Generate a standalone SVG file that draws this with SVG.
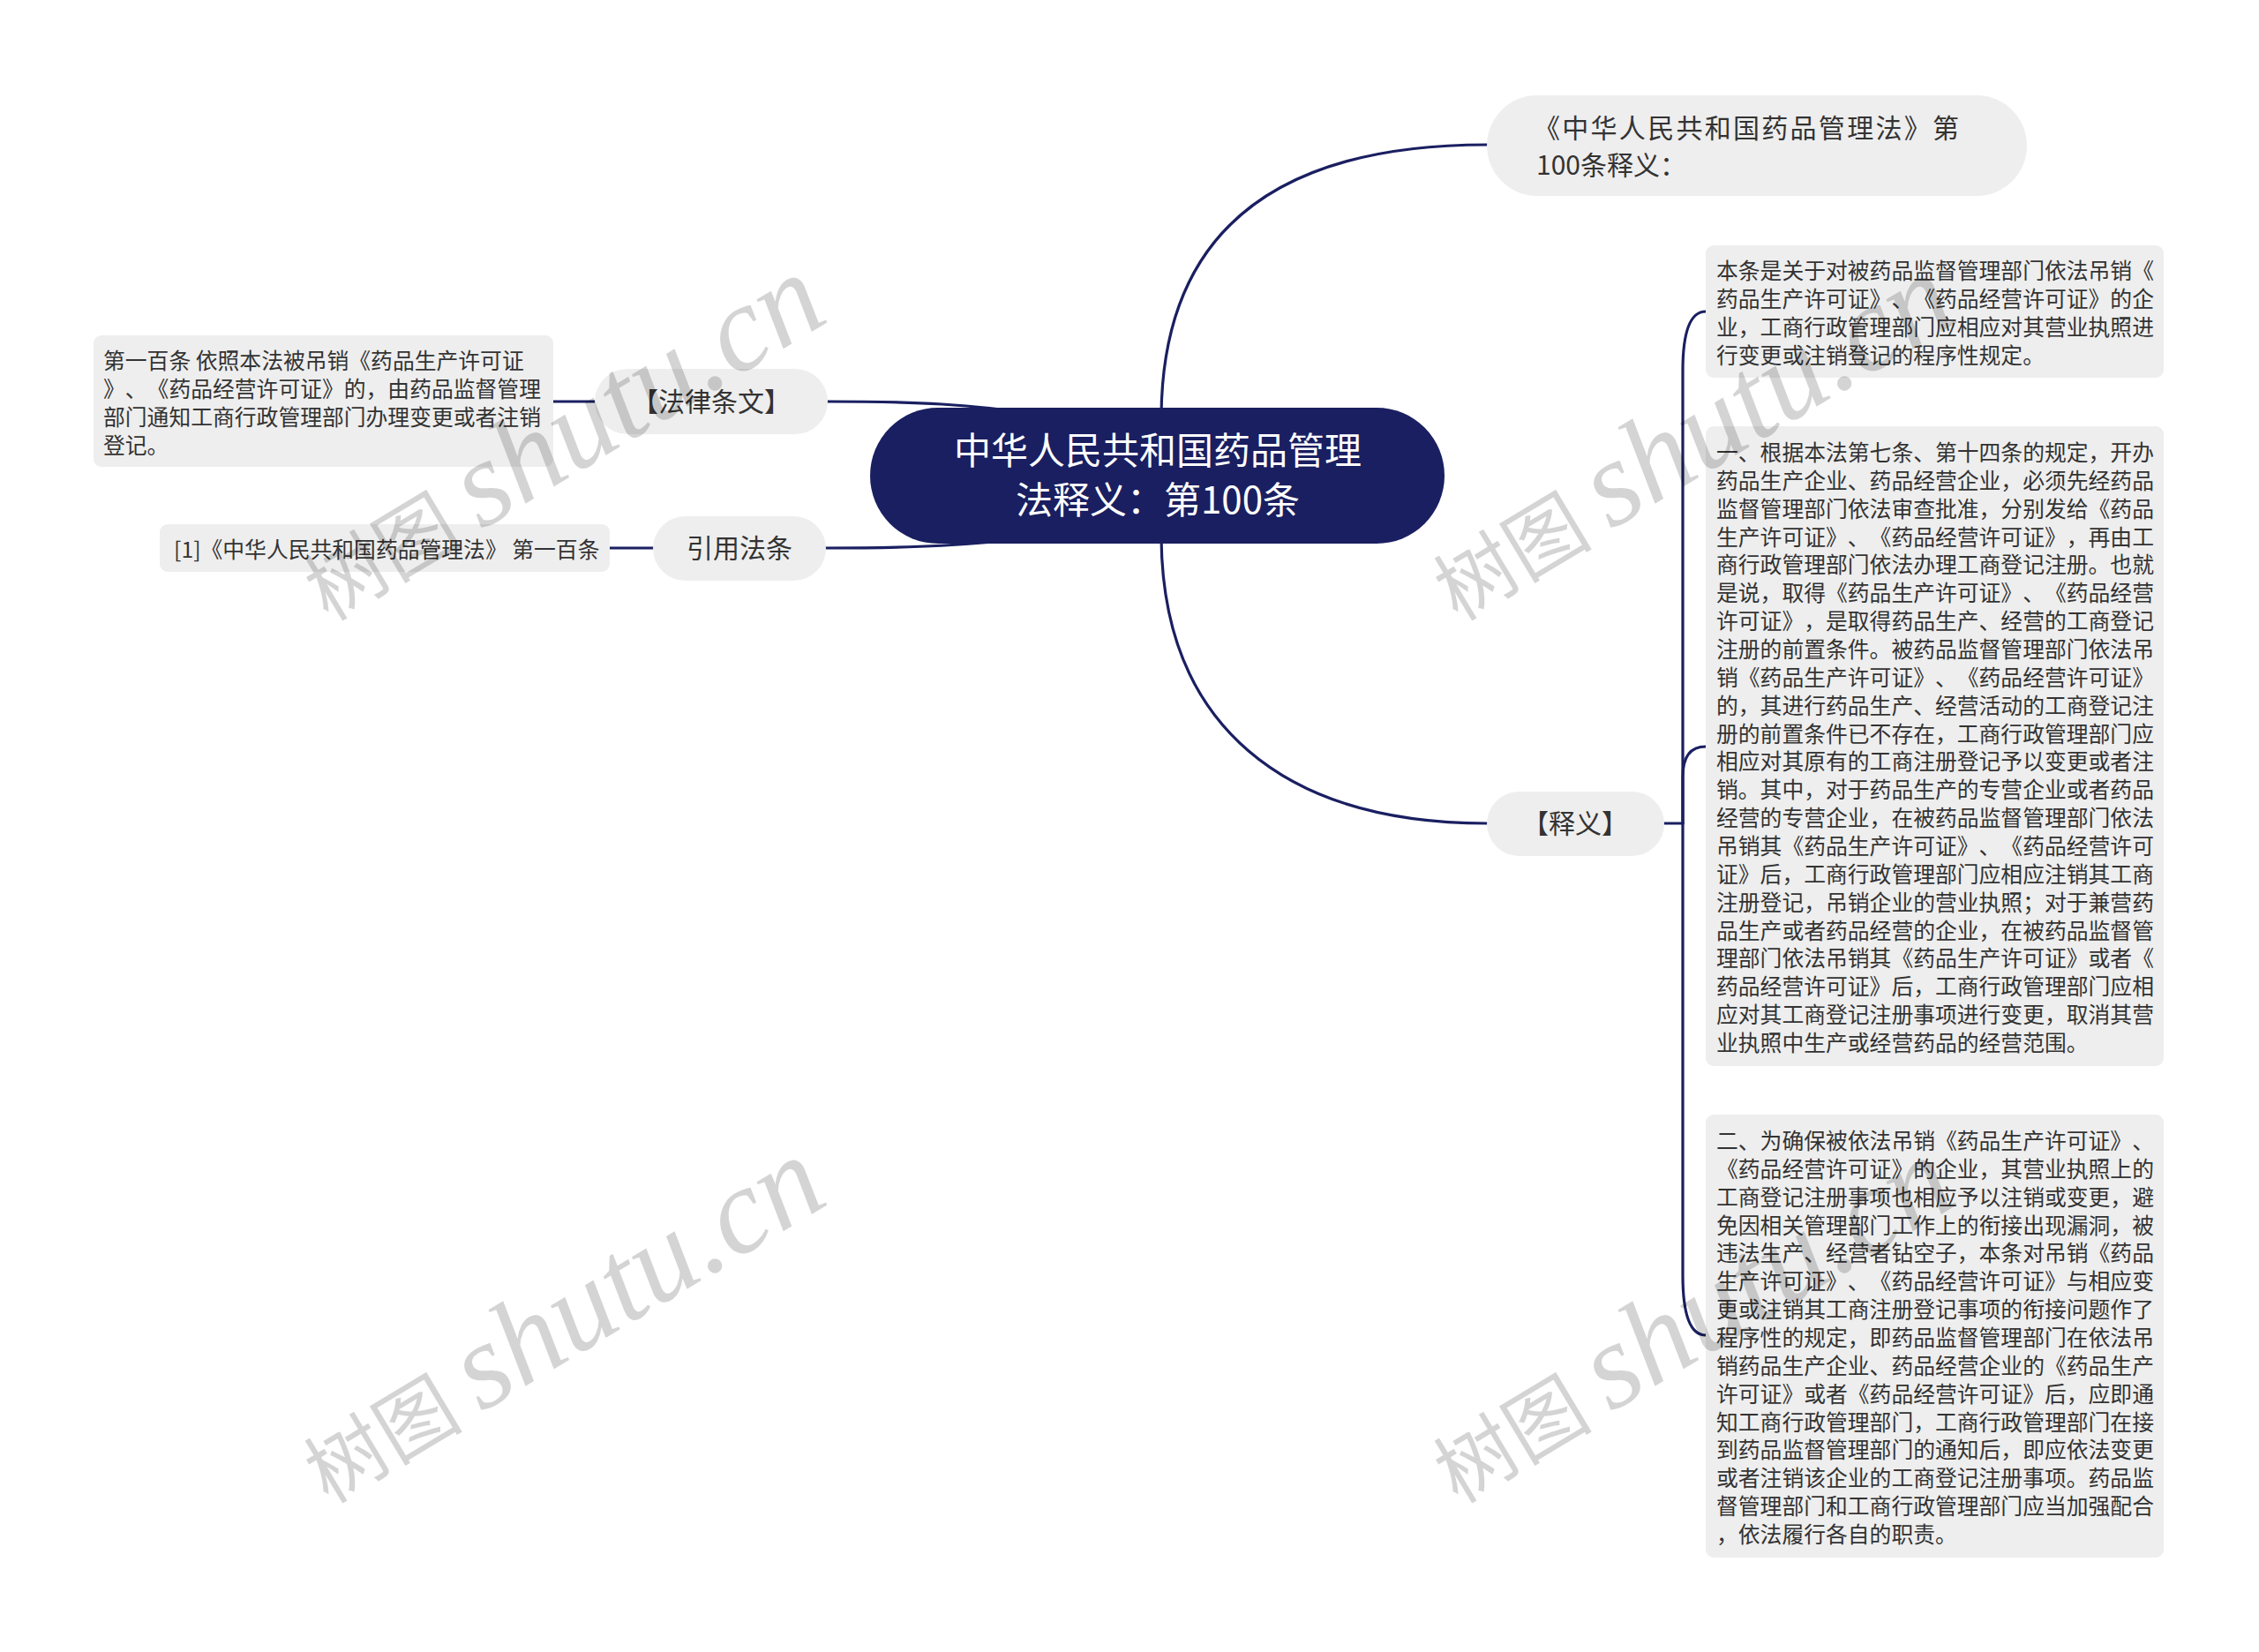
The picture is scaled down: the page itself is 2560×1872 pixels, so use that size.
<svg xmlns="http://www.w3.org/2000/svg" width="2560" height="1872" viewBox="0 0 2560 1872">
<style>
text{text-spacing-trim:space-all}
.ln{fill:none;stroke:#1a1f61;stroke-width:3.2;stroke-linecap:round}
.box{fill:#eeeeee}
.t{font-family:"Noto Sans CJK SC","Noto Sans",sans-serif;fill:#333333}
.leaf{font-size:24.8px}
.mid{font-size:30px}
.wm{font-family:"Noto Sans CJK SC",sans-serif;fill:#000;fill-opacity:0.17}
.wml{font-family:"Liberation Serif",serif;font-style:italic}
</style>
<rect width="2560" height="1872" fill="#ffffff"/>
<g id="connectors">
<path class="ln" d="M1316,470 C1318,255 1455,164 1685,164"/>
<path class="ln" d="M1316,610 C1318,822 1455,933 1685,933"/>
<path class="ln" d="M938,455 C1040,455 1100,458 1180,470 L1311,539"/>
<path class="ln" d="M936,621 C1040,621 1100,618 1180,608 L1311,539"/>
<path class="ln" d="M627,455 L674,455"/>
<path class="ln" d="M691,621 L740,621"/>
<path class="ln" d="M1886,933 L1907,933"/>
<path class="ln" d="M1907,933 L1907,420 C1907,380 1914,353 1933,353"/>
<path class="ln" d="M1907,933 L1907,880 C1907,860 1914,846 1933,846"/>
<path class="ln" d="M1907,933 L1907,1445 C1907,1485 1914,1513 1933,1513"/>
</g>
<g id="root">
<rect x="986" y="462" width="651" height="154" rx="77" fill="#1a1f61"/>
<text class="t" x="1312" y="526" font-size="42" text-anchor="middle" style="fill:#ffffff">中华人民共和国药品管理</text>
<text class="t" x="1312" y="582" font-size="42" text-anchor="middle" style="fill:#ffffff">法释义：第100条</text>
</g>
<g id="node-title">
<rect class="box" x="1685" y="108" width="612" height="114" rx="57"/>
<text class="t mid" x="1738" y="156" textLength="482" lengthAdjust="spacing">《中华人民共和国药品管理法》第</text>
<text class="t mid" x="1741" y="198">100条释义：</text>
</g>
<g id="node-shiyi">
<rect class="box" x="1685" y="897" width="201" height="73" rx="36.5"/>
<text class="t mid" x="1785" y="944" text-anchor="middle">【释义】</text>
</g>
<g id="node-falv">
<rect class="box" x="674" y="418" width="264" height="74" rx="37"/>
<text class="t mid" x="806" y="466" text-anchor="middle">【法律条文】</text>
</g>
<g id="node-yinyong">
<rect class="box" x="740" y="585" width="196" height="73" rx="36.5"/>
<text class="t mid" x="838" y="632" text-anchor="middle">引用法条</text>
</g>
<g id="leaf-falv">
<rect class="box" x="106" y="380" width="521" height="149" rx="9"/>
<text class="t leaf">
<tspan x="117" y="418">第一百条 依照本法被吊销《药品生产许可证</tspan>
<tspan x="117" y="450">》、《药品经营许可证》的，由药品监督管理</tspan>
<tspan x="117" y="482">部门通知工商行政管理部门办理变更或者注销</tspan>
<tspan x="117" y="514">登记。</tspan>
</text>
</g>
<g id="leaf-yinyong">
<rect class="box" x="181" y="594" width="510" height="54" rx="9"/>
<text class="t leaf" x="197" y="632">[1]《中华人民共和国药品管理法》 第一百条</text>
</g>
<g id="leaf-a">
<rect class="box" x="1933" y="278" width="519" height="150" rx="9"/>
<text class="t leaf">
<tspan x="1945" y="316">本条是关于对被药品监督管理部门依法吊销《</tspan>
<tspan x="1945" y="348">药品生产许可证》、《药品经营许可证》的企</tspan>
<tspan x="1945" y="380">业，工商行政管理部门应相应对其营业执照进</tspan>
<tspan x="1945" y="412">行变更或注销登记的程序性规定。</tspan>
</text>
</g>
<g id="leaf-b">
<rect class="box" x="1933" y="483" width="519" height="725" rx="9"/>
<text class="t leaf">
<tspan x="1945" y="522">一、根据本法第七条、第十四条的规定，开办</tspan>
<tspan x="1945" y="553.9">药品生产企业、药品经营企业，必须先经药品</tspan>
<tspan x="1945" y="585.7">监督管理部门依法审查批准，分别发给《药品</tspan>
<tspan x="1945" y="617.6">生产许可证》、《药品经营许可证》，再由工</tspan>
<tspan x="1945" y="649.4">商行政管理部门依法办理工商登记注册。也就</tspan>
<tspan x="1945" y="681.3">是说，取得《药品生产许可证》、《药品经营</tspan>
<tspan x="1945" y="713.1">许可证》，是取得药品生产、经营的工商登记</tspan>
<tspan x="1945" y="745">注册的前置条件。被药品监督管理部门依法吊</tspan>
<tspan x="1945" y="776.8">销《药品生产许可证》、《药品经营许可证》</tspan>
<tspan x="1945" y="808.7">的，其进行药品生产、经营活动的工商登记注</tspan>
<tspan x="1945" y="840.5">册的前置条件已不存在，工商行政管理部门应</tspan>
<tspan x="1945" y="872.4">相应对其原有的工商注册登记予以变更或者注</tspan>
<tspan x="1945" y="904.2">销。其中，对于药品生产的专营企业或者药品</tspan>
<tspan x="1945" y="936.1">经营的专营企业，在被药品监督管理部门依法</tspan>
<tspan x="1945" y="967.9">吊销其《药品生产许可证》、《药品经营许可</tspan>
<tspan x="1945" y="999.8">证》后，工商行政管理部门应相应注销其工商</tspan>
<tspan x="1945" y="1031.6">注册登记，吊销企业的营业执照；对于兼营药</tspan>
<tspan x="1945" y="1063.5">品生产或者药品经营的企业，在被药品监督管</tspan>
<tspan x="1945" y="1095.3">理部门依法吊销其《药品生产许可证》或者《</tspan>
<tspan x="1945" y="1127.2">药品经营许可证》后，工商行政管理部门应相</tspan>
<tspan x="1945" y="1159">应对其工商登记注册事项进行变更，取消其营</tspan>
<tspan x="1945" y="1190.9">业执照中生产或经营药品的经营范围。</tspan>
</text>
</g>
<g id="leaf-c">
<rect class="box" x="1933" y="1263" width="519" height="502" rx="9"/>
<text class="t leaf">
<tspan x="1945" y="1302">二、为确保被依法吊销《药品生产许可证》、</tspan>
<tspan x="1945" y="1333.9">《药品经营许可证》的企业，其营业执照上的</tspan>
<tspan x="1945" y="1365.7">工商登记注册事项也相应予以注销或变更，避</tspan>
<tspan x="1945" y="1397.6">免因相关管理部门工作上的衔接出现漏洞，被</tspan>
<tspan x="1945" y="1429.4">违法生产、经营者钻空子，本条对吊销《药品</tspan>
<tspan x="1945" y="1461.3">生产许可证》、《药品经营许可证》与相应变</tspan>
<tspan x="1945" y="1493.1">更或注销其工商注册登记事项的衔接问题作了</tspan>
<tspan x="1945" y="1525">程序性的规定，即药品监督管理部门在依法吊</tspan>
<tspan x="1945" y="1556.8">销药品生产企业、药品经营企业的《药品生产</tspan>
<tspan x="1945" y="1588.7">许可证》或者《药品经营许可证》后，应即通</tspan>
<tspan x="1945" y="1620.5">知工商行政管理部门，工商行政管理部门在接</tspan>
<tspan x="1945" y="1652.4">到药品监督管理部门的通知后，即应依法变更</tspan>
<tspan x="1945" y="1684.2">或者注销该企业的工商登记注册事项。药品监</tspan>
<tspan x="1945" y="1716.1">督管理部门和工商行政管理部门应当加强配合</tspan>
<tspan x="1945" y="1747.9">，依法履行各自的职责。</tspan>
</text>
</g>
<g id="watermarks">
<text class="wm" transform="translate(372,705) rotate(-31)"><tspan font-size="90">树图</tspan><tspan class="wml" font-size="138" dx="22">shutu.cn</tspan></text>
<text class="wm" transform="translate(1652,705) rotate(-31)"><tspan font-size="90">树图</tspan><tspan class="wml" font-size="138" dx="22">shutu.cn</tspan></text>
<text class="wm" transform="translate(372,1705) rotate(-31)"><tspan font-size="90">树图</tspan><tspan class="wml" font-size="138" dx="22">shutu.cn</tspan></text>
<text class="wm" transform="translate(1652,1705) rotate(-31)"><tspan font-size="90">树图</tspan><tspan class="wml" font-size="138" dx="22">shutu.cn</tspan></text>
</g>
</svg>
